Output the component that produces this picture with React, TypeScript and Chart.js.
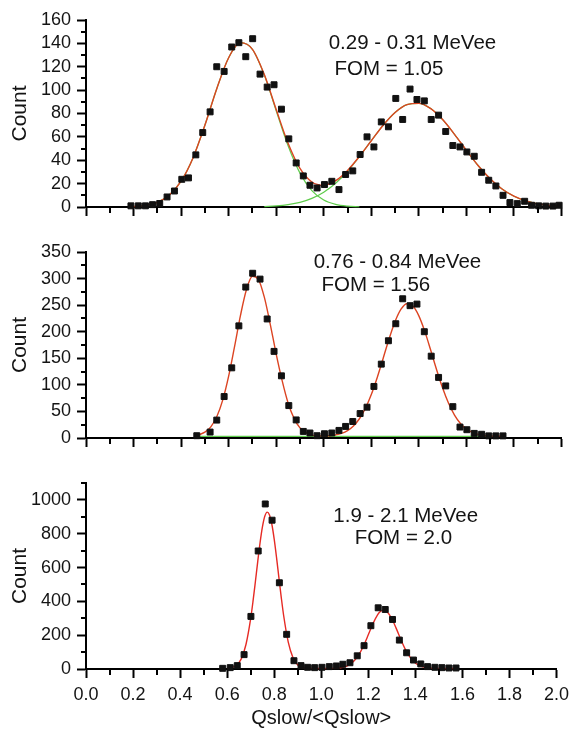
import React, { useEffect, useRef } from "react";
import { Chart, registerables } from "chart.js";
Chart.register(...registerables);

Chart.defaults.font.family = "'Liberation Sans', Arial, sans-serif";

// ---------- shared axis ticks ----------
const xTicks = [0, 0.2, 0.4, 0.6, 0.8, 1.0, 1.2, 1.4, 1.6, 1.8, 2.0];
const xMinorTicks = [0.1, 0.3, 0.5, 0.7, 0.9, 1.1, 1.3, 1.5, 1.7, 1.9];
const xTitle = "Qslow/<Qslow>";
const yTitle = "Count";

// ---------- panel 1 : 0.29 - 0.31 MeVee ----------
const p1Labels = ["0.29 - 0.31 MeVee", "FOM = 1.05"];
const p1YTicks = [0, 20, 40, 60, 80, 100, 120, 140, 160];
const p1YMinor = [10, 30, 50, 70, 90, 110, 130, 150];
const p1PointX = [0.189, 0.22, 0.25, 0.28, 0.31, 0.341, 0.372, 0.403, 0.431, 0.462, 0.491, 0.522, 0.55, 0.581, 0.613, 0.643, 0.672, 0.701, 0.732, 0.762, 0.791, 0.822, 0.853, 0.884, 0.914, 0.942, 0.972, 1.003, 1.034, 1.064, 1.092, 1.122, 1.153, 1.182, 1.211, 1.242, 1.272, 1.303, 1.332, 1.363, 1.392, 1.423, 1.452, 1.483, 1.513, 1.543, 1.573, 1.602, 1.633, 1.664, 1.694, 1.724, 1.754, 1.783, 1.814, 1.845, 1.874, 1.904, 1.934, 1.964, 1.99];
const p1PointY = [1, 1, 1, 2, 3, 8.6, 13.7, 23.7, 24.9, 44.6, 63.7, 81.4, 120, 116, 136.9, 140.6, 128.6, 144, 113.7, 102.6, 104.6, 83.7, 58.3, 37.7, 26.6, 18.6, 16.3, 19.2, 22, 14.9, 27.8, 30.9, 44.9, 60, 51.4, 72.8, 68.6, 92.9, 74.9, 100.9, 92, 90.8, 74.9, 78.6, 64.6, 52.6, 51.4, 47.1, 43.4, 29.7, 22.9, 18, 10, 3.8, 2.9, 4.9, 1.5, 1, 0.8, 0.8, 1.5];
const p1FitX = [0.2, 0.25, 0.3, 0.35, 0.4, 0.45, 0.5, 0.55, 0.6, 0.65, 0.7, 0.75, 0.8, 0.85, 0.9, 0.95, 1.0, 1.05, 1.1, 1.15, 1.2, 1.25, 1.3, 1.35, 1.4, 1.45, 1.5, 1.55, 1.6, 1.65, 1.7, 1.75, 1.8, 1.85, 1.9, 1.95, 2.0];
const p1FitY = [0.4, 1.4, 4.0, 10.1, 22.1, 42.0, 69.9, 101.2, 127.7, 140.6, 134.9, 113.3, 83.4, 54.5, 33.0, 21.4, 18.6, 22.5, 31.3, 43.3, 56.7, 70.0, 80.9, 87.6, 88.7, 84.2, 74.8, 62.2, 48.5, 35.3, 24.1, 15.4, 9.2, 5.2, 2.7, 1.3, 0.6];
const p1Peak1X = [0.2, 0.25, 0.3, 0.35, 0.4, 0.45, 0.5, 0.55, 0.6, 0.65, 0.7, 0.75, 0.8, 0.85, 0.9, 0.95, 1.0, 1.05, 1.1, 1.15];
const p1Peak1Y = [0.4, 1.4, 4.0, 10.1, 22.1, 42.0, 69.9, 101.2, 127.7, 140.6, 134.9, 112.9, 82.4, 52.4, 29.0, 14.0, 5.9, 2.2, 0.7, 0.2];
const p1Peak2X = [0.75, 0.8, 0.85, 0.9, 0.95, 1.0, 1.05, 1.1, 1.15, 1.2, 1.25, 1.3, 1.35, 1.4, 1.45, 1.5, 1.55, 1.6, 1.65, 1.7, 1.75, 1.8, 1.85, 1.9, 1.95, 2.0];
const p1Peak2Y = [0.4, 1.0, 2.1, 4.0, 7.4, 12.7, 20.3, 30.6, 43.1, 56.7, 70.0, 80.9, 87.6, 88.7, 84.2, 74.8, 62.2, 48.5, 35.3, 24.1, 15.4, 9.2, 5.2, 2.7, 1.3, 0.6];

// ---------- panel 2 : 0.76 - 0.84 MeVee ----------
const p2Labels = ["0.76 - 0.84 MeVee", "FOM = 1.56"];
const p2YTicks = [0, 50, 100, 150, 200, 250, 300, 350];
const p2YMinor = [25, 75, 125, 175, 225, 275, 325];
const p2PointX = [0.466, 0.522, 0.55, 0.581, 0.613, 0.643, 0.672, 0.701, 0.732, 0.762, 0.791, 0.822, 0.853, 0.884, 0.914, 0.942, 0.972, 1.003, 1.034, 1.064, 1.092, 1.122, 1.153, 1.182, 1.211, 1.242, 1.272, 1.303, 1.332, 1.363, 1.392, 1.423, 1.452, 1.483, 1.513, 1.543, 1.573, 1.602, 1.633, 1.664, 1.694, 1.724, 1.754];
const p2PointY = [4.3, 11.2, 33.7, 78, 132, 211, 284, 310, 299, 224, 163, 117, 61, 34, 12.4, 9.4, 4.3, 8, 9.4, 14.3, 21.8, 31, 46, 58, 97, 139, 183, 215, 262, 249, 252, 200, 154, 114, 98, 59, 20.6, 15.6, 8.7, 7, 4, 4, 4];
const p2FitX = [0.475, 0.5, 0.525, 0.55, 0.575, 0.6, 0.625, 0.65, 0.675, 0.7, 0.725, 0.75, 0.775, 0.8, 0.825, 0.85, 0.875, 0.9, 0.925, 0.95, 0.975, 1.0, 1.025, 1.05, 1.075, 1.1, 1.125, 1.15, 1.175, 1.2, 1.225, 1.25, 1.275, 1.3, 1.325, 1.35, 1.375, 1.4, 1.425, 1.45, 1.475, 1.5, 1.525, 1.55, 1.575, 1.6, 1.625, 1.65, 1.675, 1.7, 1.725, 1.75];
const p2FitY = [6.1, 10.9, 21.0, 39.9, 71.2, 116.3, 172.5, 231.2, 279.4, 304.4, 298.7, 265, 214, 158, 108, 66, 37, 19, 10, 5.5, 4, 3.8, 4.3, 5.9, 8.8, 14.0, 22.7, 36.2, 55.7, 81.8, 114.0, 150.2, 186.8, 219.2, 242.4, 252.7, 248.2, 229.8, 200.6, 165.0, 128.1, 94.0, 65.4, 43.2, 27.4, 17.0, 10.5, 6.8, 4.8, 3.8, 3.3, 3.1];
const p2BaseX = [0.46, 1.73];
const p2BaseY = [3, 3];

// ---------- panel 3 : 1.9 - 2.1 MeVee ----------
const p3Labels = ["1.9 - 2.1 MeVee", "FOM = 2.0"];
const p3YTicks = [0, 200, 400, 600, 800, 1000];
const p3YMinor = [100, 300, 500, 700, 900, 1100];
const p3PointX = [0.581, 0.613, 0.643, 0.672, 0.701, 0.732, 0.762, 0.791, 0.822, 0.853, 0.884, 0.914, 0.942, 0.972, 1.003, 1.034, 1.064, 1.092, 1.122, 1.153, 1.182, 1.211, 1.242, 1.272, 1.303, 1.332, 1.363, 1.392, 1.423, 1.452, 1.483, 1.513, 1.543, 1.573];
const p3PointY = [4, 8, 20, 85, 311, 698, 976, 880, 510, 205, 49, 20, 10, 8, 10, 14, 18, 28, 37, 78, 138, 256, 362, 352, 293, 171, 96, 53, 30, 14, 10, 8, 6, 6];
const p3FitX = [0.6, 0.62, 0.64, 0.66, 0.68, 0.7, 0.71, 0.72, 0.73, 0.74, 0.75, 0.76, 0.77, 0.78, 0.79, 0.8, 0.81, 0.82, 0.83, 0.84, 0.86, 0.88, 0.9, 0.92, 0.94, 0.96, 0.98, 1.0, 1.02, 1.04, 1.06, 1.08, 1.1, 1.12, 1.14, 1.16, 1.18, 1.2, 1.22, 1.24, 1.25, 1.26, 1.27, 1.28, 1.3, 1.32, 1.34, 1.36, 1.38, 1.4, 1.42, 1.44, 1.46, 1.48, 1.5, 1.52, 1.54, 1.56, 1.58];
const p3FitY = [4.2, 8.3, 22, 60, 145, 298, 401, 516, 635, 747, 840, 903, 928, 911, 856, 768, 659, 540, 424, 318, 157, 66, 24, 9, 4.4, 3.3, 3, 3, 3.1, 3.5, 4.5, 7, 13, 25.4, 48.2, 85.2, 137.8, 202.1, 268.1, 321.1, 338, 346.9, 347, 338.1, 297.2, 235.8, 169, 109.7, 64.8, 35.2, 18.2, 9.4, 5.5, 3.8, 3.3, 3.1, 3, 3, 3];

// ---------- styling ----------
const GREEN = "#5fcc4c";
const INK = "#141414";

const zip = (xs: number[], ys: number[]) => xs.map((x, i) => ({ x, y: ys[i] }));

const minorTicksPlugin = {
  id: "minorTicks",
  afterDraw(chart: any) {
    const opts = chart.options.plugins.minorTicks;
    if (!opts) return;
    const { ctx, chartArea } = chart;
    const xs = chart.scales.x;
    const ys = chart.scales.y;
    ctx.save();
    ctx.strokeStyle = "#000";
    ctx.lineWidth = 2;
    ctx.beginPath();
    opts.x.forEach((v: number) => {
      const px = Math.round(xs.getPixelForValue(v));
      ctx.moveTo(px, chartArea.bottom);
      ctx.lineTo(px, chartArea.bottom + 6);
    });
    opts.y.forEach((v: number) => {
      const py = Math.round(ys.getPixelForValue(v));
      ctx.moveTo(chartArea.left - 5, py);
      ctx.lineTo(chartArea.left, py);
    });
    ctx.stroke();
    ctx.restore();
  },
};

const textPlugin = {
  id: "panelText",
  afterDraw(chart: any) {
    const opts = chart.options.plugins.panelText;
    if (!opts) return;
    const { ctx } = chart;
    ctx.save();
    ctx.fillStyle = INK;
    ctx.font = "20.5px 'Liberation Sans', Arial, sans-serif";
    ctx.textAlign = "center";
    ctx.textBaseline = "alphabetic";
    opts.items.forEach((it: any) => {
      ctx.fillText(it.text, chart.scales.x.getPixelForValue(it.x), chart.scales.y.getPixelForValue(it.y));
    });
    ctx.restore();
  },
};

interface PanelSpec {
  height: number;
  padTop: number;
  xHeight: number;
  showX: boolean;
  yMax: number;
  yTicks: number[];
  yMinor: number[];
  pointX: number[];
  pointY: number[];
  fitX: number[];
  fitY: number[];
  comps: { x: number[]; y: number[] }[];
  red: string;
  texts: { text: string; x: number; y: number }[];
}

function makeConfig(p: PanelSpec): any {
  const datasets: any[] = [
    {
      data: zip(p.pointX, p.pointY),
      showLine: false,
      pointStyle: "rect",
      pointRadius: 4.2,
      pointBackgroundColor: "#111",
      pointBorderColor: "#111",
      pointBorderWidth: 1,
      order: 0,
      clip: false,
    },
    {
      data: zip(p.fitX, p.fitY),
      showLine: true,
      pointRadius: 0,
      borderColor: p.red,
      borderWidth: 1.4,
      cubicInterpolationMode: "monotone",
      fill: false,
      order: 1,
      clip: false,
    },
  ];
  p.comps.forEach((c) =>
    datasets.push({
      data: zip(c.x, c.y),
      showLine: true,
      pointRadius: 0,
      borderColor: GREEN,
      borderWidth: 1.2,
      cubicInterpolationMode: "monotone",
      fill: false,
      order: 2,
      clip: false,
    })
  );
  return {
    type: "scatter",
    data: { datasets },
    plugins: [minorTicksPlugin, textPlugin],
    options: {
      animation: false,
      responsive: false,
      devicePixelRatio: 1,
      events: [],
      layout: { padding: { left: 0, right: 13.5, top: p.padTop, bottom: 0 } },
      plugins: {
        legend: { display: false },
        tooltip: { enabled: false },
        minorTicks: { x: xMinorTicks, y: p.yMinor },
        panelText: { items: p.texts },
      },
      scales: {
        x: {
          type: "linear",
          position: "bottom",
          min: 0,
          max: 2,
          afterBuildTicks: (s: any) => {
            s.ticks = xTicks.map((v) => ({ value: v }));
          },
          afterFit: (s: any) => {
            s.height = p.xHeight;
          },
          grid: {
            drawOnChartArea: false,
            drawTicks: true,
            tickLength: 9,
            tickWidth: 2,
            tickColor: "#000",
            color: "#000",
          },
          border: { display: true, color: "#000", width: 2 },
          ticks: {
            display: p.showX,
            color: INK,
            font: { size: 18 },
            padding: 6,
            maxRotation: 0,
            autoSkip: false,
            callback: (v: any) => Number(v).toFixed(1),
          },
          title: {
            display: p.showX,
            text: xTitle,
            color: INK,
            font: { size: 20 },
            padding: { top: 0, bottom: 1 },
          },
        },
        y: {
          type: "linear",
          position: "left",
          min: 0,
          max: p.yMax,
          afterBuildTicks: (s: any) => {
            s.ticks = p.yTicks.map((v) => ({ value: v }));
          },
          afterFit: (s: any) => {
            s.width = 86;
          },
          grid: {
            drawOnChartArea: false,
            drawTicks: true,
            tickLength: 9,
            tickWidth: 2,
            tickColor: "#000",
            color: "#000",
          },
          border: { display: true, color: "#000", width: 2 },
          ticks: {
            color: INK,
            font: { size: 18 },
            padding: 6,
            autoSkip: false,
            callback: (v: any) => String(v),
          },
          title: {
            display: true,
            text: yTitle,
            color: INK,
            font: { size: 21 },
            padding: { top: 8, bottom: 0 },
          },
        },
      },
    },
  };
}

const panels: { top: number; spec: PanelSpec }[] = [
  {
    top: 0,
    spec: {
      height: 232,
      padTop: 20,
      xHeight: 25,
      showX: false,
      yMax: 160,
      yTicks: p1YTicks,
      yMinor: p1YMinor,
      pointX: p1PointX,
      pointY: p1PointY,
      fitX: p1FitX,
      fitY: p1FitY,
      comps: [
        { x: p1Peak1X, y: p1Peak1Y },
        { x: p1Peak2X, y: p1Peak2Y },
      ],
      red: "#dc4422",
      texts: [
        { text: p1Labels[0], x: 1.373, y: 134.9 },
        { text: p1Labels[1], x: 1.274, y: 112.9 },
      ],
    },
  },
  {
    top: 232,
    spec: {
      height: 232,
      padTop: 20,
      xHeight: 26,
      showX: false,
      yMax: 350,
      yTicks: p2YTicks,
      yMinor: p2YMinor,
      pointX: p2PointX,
      pointY: p2PointY,
      fitX: p2FitX,
      fitY: p2FitY,
      comps: [{ x: p2BaseX, y: p2BaseY }],
      red: "#dc4422",
      texts: [
        { text: p2Labels[0], x: 1.31, y: 320.6 },
        { text: p2Labels[1], x: 1.219, y: 276.7 },
      ],
    },
  },
  {
    top: 464,
    spec: {
      height: 267,
      padTop: 19,
      xHeight: 62,
      showX: true,
      yMax: 1100,
      yTicks: p3YTicks,
      yMinor: p3YMinor,
      pointX: p3PointX,
      pointY: p3PointY,
      fitX: p3FitX,
      fitY: p3FitY,
      comps: [],
      red: "#e62a24",
      texts: [
        { text: p3Labels[0], x: 1.359, y: 869.5 },
        { text: p3Labels[1], x: 1.349, y: 737.9 },
      ],
    },
  },
];

function Panel({ top, spec }: { top: number; spec: PanelSpec }) {
  const ref = useRef<HTMLCanvasElement>(null);
  useEffect(() => {
    const chart = new Chart(ref.current as HTMLCanvasElement, makeConfig(spec));
    return () => chart.destroy();
  }, []);
  return (
    <canvas
      ref={ref}
      width={575}
      height={spec.height}
      style={{ position: "absolute", left: 0, top, width: 575, height: spec.height }}
    />
  );
}

export default function App() {
  return (
    <div style={{ position: "absolute", left: 0, top: 0, width: 575, height: 731, background: "#fff", overflow: "hidden" }}>
      {panels.map((p, i) => (
        <Panel key={i} top={p.top} spec={p.spec} />
      ))}
    </div>
  );
}
